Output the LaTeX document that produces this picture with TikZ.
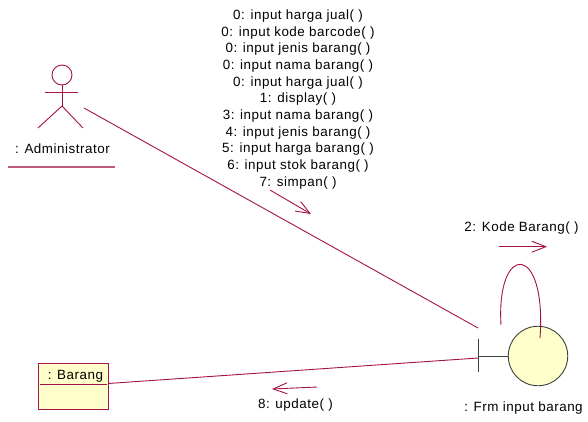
\documentclass[tikz,border=0pt]{standalone}
\usepackage{fontspec}
\setmainfont{Liberation Sans}[LetterSpace=4]
\usetikzlibrary{arrows.meta}
\definecolor{umlred}{RGB}{164,18,72}
\definecolor{umlfill}{RGB}{255,255,204}
\definecolor{umlgray}{RGB}{64,64,64}
\tikzset{
  lbl/.style={font=\fontsize{13.4}{16.7}\selectfont, inner sep=0pt, anchor=base, text=black},
  link/.style={draw=umlred, line width=0.9pt},
  msg/.style={draw=umlred, line width=0.9pt, -{Straight Barb[length=14pt,width=11pt]}},
}
\begin{document}
\begin{tikzpicture}[x=1pt,y=-1pt]
\useasboundingbox (0,0) rectangle (588,421);
% actor
\node[circle, draw=umlred, line width=0.9pt, minimum size=20pt, inner sep=0pt] (head) at (62,75) {};
\coordinate (hip) at (62,106);
\draw[link] (head.south) -- (hip);
\draw[link] (45,92) -- (78,92);
\draw[link] (hip) -- (38,128);
\draw[link] (hip) -- (83,128);
\node[lbl] (admname) at (62.5,153) {: Administrator};
\draw[umlred!70, line width=1.4pt] (8,167) -- (115,167);
% boundary + control
\node[circle, draw=umlgray, line width=0.9pt, fill=umlfill, minimum size=59.5pt, inner sep=0pt] (ctl) at (538,356) {};
\coordinate (bnd) at (478,356);
\draw[umlgray, line width=0.9pt] (478,339) -- (478,372);
\draw[umlgray, line width=0.9pt] (bnd) -- (ctl.west);
\node[lbl] (ctlname) at (523.5,411.7) {: Frm input barang};
% entity box
\node[draw=umlred, line width=0.9pt, fill=umlfill, minimum width=70pt, minimum height=46pt, inner sep=0pt] (barang) at (73,386) {};
\draw[umlred, line width=0.9pt] (40,384) -- (107,384);
\node[lbl] (barangname) at (75.5,379) {: Barang};
% links
\coordinate (admend) at (84,108);
\coordinate (bndtop) at (478,328);
\draw[link] (admend) -- (bndtop);
\coordinate (barend) at (108,383.5);
\coordinate (bndmid) at (478,358);
\draw[link] (barend) -- (bndmid);
% self loop
\coordinate (loopa) at (501,325);
\coordinate (loopb) at (540,338);
\draw[link] (loopa) .. controls (496,242) and (547,242) .. (loopb);
% messages
\foreach \t [count=\i from 0] in {0: input harga jual( ),0: input kode barcode( ),0: input jenis barang( ),0: input nama barang( ),0: input harga jual( ),1: display( ),3: input nama barang( ),4: input jenis barang( ),5: input harga barang( ),6: input stok barang( ),7: simpan( )}
  \node[lbl] (m\i) at (298,19.3+16.7*\i) {\t};
\coordinate (a1s) at (270,190);
\coordinate (a1e) at (311,214);
\draw[msg] (a1s) -- (a1e);
\node[lbl] (selfmsg) at (521.5,231.7) {2: Kode Barang( )};
\coordinate (a2s) at (499,246.7);
\coordinate (a2e) at (547,246.7);
\draw[msg] (a2s) -- (a2e);
\node[lbl] (updmsg) at (295.5,408) {8: update( )};
\coordinate (a3s) at (317,387);
\coordinate (a3e) at (272,389);
\draw[msg] (a3s) -- (a3e);
\end{tikzpicture}
\end{document}
